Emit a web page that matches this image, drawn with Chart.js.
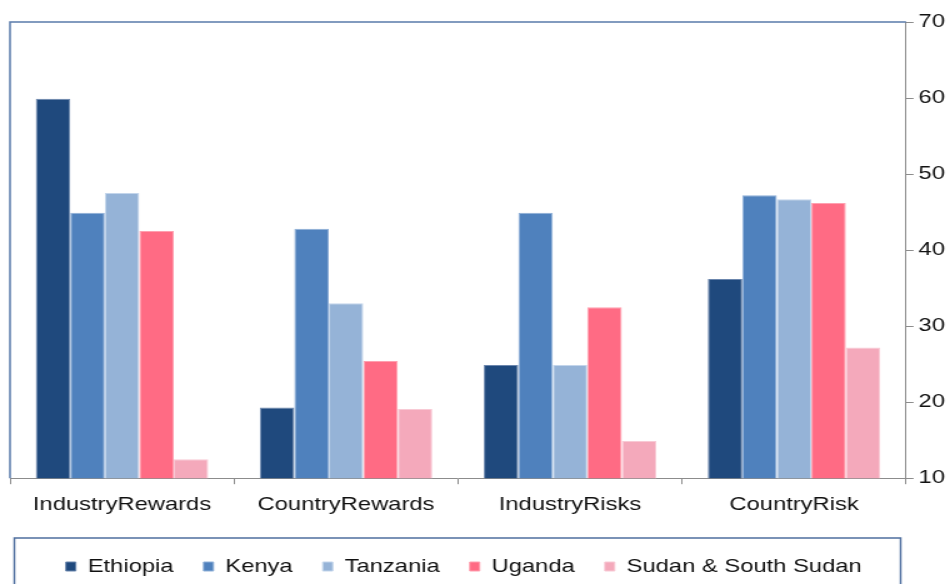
<!DOCTYPE html>
<html>
<head>
<meta charset="utf-8">
<script src="https://cdn.jsdelivr.net/npm/chart.js@4.4.1/dist/chart.umd.min.js"></script>
<style>
  body { margin: 0; background: #fff; }
  #wrap { width: 950px; height: 584px; overflow: hidden; }
</style>
</head>
<body>
<div id="wrap">
  <!-- drawn at 760 wide and shown at 950, which gives the wide lettering -->
  <canvas id="chartRatings" width="760" height="584" style="width:950px;height:584px"></canvas>
</div>
<script>
'use strict';

const CATEGORIES = ['IndustryRewards', 'CountryRewards', 'IndustryRisks', 'CountryRisk'];
const ETHIOPIA = [59.9, 19.3, 24.9, 36.2];
const KENYA = [44.9, 42.8, 44.9, 47.2];
const TANZANIA = [47.5, 33.0, 24.9, 46.7];
const UGANDA = [42.5, 25.4, 32.5, 46.2];
const SUDAN = [12.5, 19.1, 14.9, 27.2];
const Y_TICKS = [10, 20, 30, 40, 50, 60, 70];

const FONT = { family: '"Liberation Sans", Arial, sans-serif', size: 19 };
const AXIS_GREY = '#8c8c8c';

function series(label, data, fill, edge) {
    return {
        label: label,
        data: data,
        backgroundColor: fill,
        borderColor: edge,
        borderWidth: 1,
        categoryPercentage: 0.77,
        barPercentage: 1.0
    };
}

// pull the legend row a little left and down
const legendShift = {
    id: 'legendShift',
    afterLayout(chart) {
        chart.legend.left -= 13;
        chart.legend.right -= 13;
        chart.legend.top += 8;
        chart.legend.bottom += 8;
    }
};

// left/top edges of the plot box and the frame round the legend
const frames = {
    id: 'frames',
    afterDraw(chart) {
        const { ctx, chartArea } = chart;
        ctx.save();
        ctx.strokeStyle = '#5a7bab';
        ctx.lineWidth = 1.5;
        ctx.beginPath();
        ctx.moveTo(chartArea.left, chartArea.bottom);
        ctx.lineTo(chartArea.left, chartArea.top);
        ctx.lineTo(chartArea.right, chartArea.top);
        ctx.stroke();

        const lg = chart.legend;
        ctx.strokeStyle = '#4f6f9f';
        ctx.strokeRect(11.5, lg.top + 5, 709, lg.height + 30);
        ctx.restore();
    }
};

const data = {
    labels: CATEGORIES,
    datasets: [
        series('Ethiopia', ETHIOPIA, '#1f497d', '#6b86ad'),
        series('Kenya', KENYA, '#4f81bd', '#8fb0d8'),
        series('Tanzania', TANZANIA, '#95b3d7', '#c3d5eb'),
        series('Uganda', UGANDA, '#ff6b84', '#ffa0b0'),
        series('Sudan & South Sudan', SUDAN, '#f4a9bb', '#f8cad5')
    ]
};

const config = {
    type: 'bar',
    data,
    plugins: [legendShift, frames],
    options: {
        responsive: false,
        animation: false,
        layout: { padding: { left: 8, right: 0, top: 22, bottom: 6 } },
        plugins: {
            tooltip: { enabled: false },
            legend: {
                position: 'bottom',
                labels: {
                    font: FONT,
                    color: '#111',
                    boxWidth: 8,
                    boxHeight: 9,
                    padding: 24
                }
            }
        },
        scales: {
            x: {
                grid: { offset: true, drawOnChartArea: false, tickLength: 6, color: AXIS_GREY },
                border: { color: AXIS_GREY, width: 1 },
                ticks: { font: FONT, color: '#111', padding: 9 }
            },
            y: {
                position: 'right',
                min: 10,
                max: 70,
                afterBuildTicks(axis) { axis.ticks = Y_TICKS.map(v => ({ value: v })); },
                grid: { drawOnChartArea: false, tickLength: 6, color: AXIS_GREY },
                border: { color: AXIS_GREY, width: 1 },
                ticks: { font: FONT, color: '#111', padding: 4 }
            }
        }
    }
};

new Chart(document.getElementById('chartRatings'), config);
</script>
</body>
</html>
